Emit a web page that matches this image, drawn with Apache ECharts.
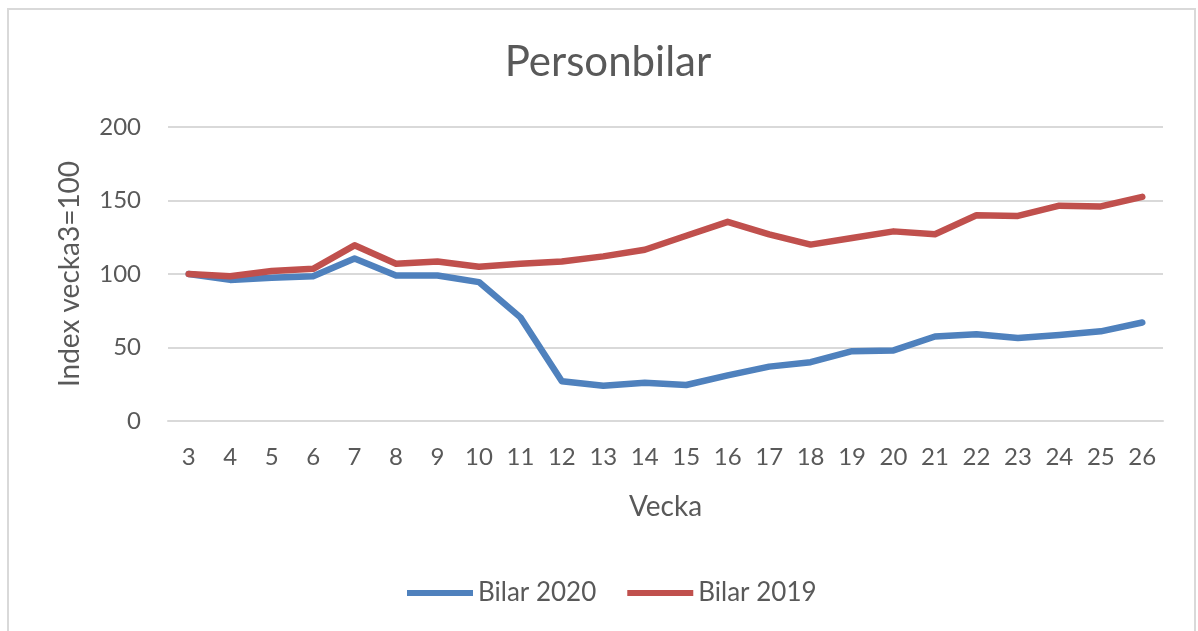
<!DOCTYPE html>
<html>
<head>
<meta charset="utf-8">
<script src="https://cdn.jsdelivr.net/npm/echarts@6/dist/echarts.min.js"></script>
<style>
html,body{margin:0;padding:0;background:#fff;}
#frame{position:absolute;left:7px;top:8px;width:1189px;height:640px;border:2px solid #d9d9d9;box-sizing:border-box;}
#main{position:absolute;left:0;top:0;width:1198px;height:631px;}
</style>
</head>
<body>
<div id="frame"></div>
<div id="main"></div>
<script>
// veckor och index (vecka 3 = 100)
var weeks = ['3','4','5','6','7','8','9','10','11','12','13','14','15','16','17','18','19','20','21','22','23','24','25','26'];
var bilar2020 = [100, 96, 97.5, 98.5, 110.5, 99, 99, 94.5, 70.5, 27, 24, 26, 24.5, 31, 37, 40, 47.5, 48, 57.5, 59, 56.5, 58.5, 61, 67];
var bilar2019 = [100, 98.5, 102, 103.5, 119.5, 107, 108.5, 105, 107, 108.5, 112, 116.5, 126, 135.5, 127, 120, 124.5, 129, 127, 140, 139.5, 146.5, 146, 152.5];
var yTicks = [0, 50, 100, 150, 200];

var font = 'Lato, "Open Sans", sans-serif';
var grey = '#595959';

var chart = echarts.init(document.getElementById('main'));
chart.setOption({
    animation: false,
    textStyle: {fontFamily: font},
    title: {
        text: 'Personbilar',
        left: 603,
        textAlign: 'center',
        top: 36,
        textStyle: {fontSize: 42, fontWeight: 'normal', color: grey, fontFamily: font}
    },
    legend: {
        bottom: 20,
        left: 402,
        itemWidth: 66,
        itemHeight: 6,
        itemGap: 31,
        icon: 'rect',
        textStyle: {fontSize: 26, color: grey, fontFamily: font},
        data: ['Bilar 2020', 'Bilar 2019']
    },
    grid: {left: 168, right: 35, top: 127, bottom: 210},
    xAxis: {
        type: 'category',
        data: weeks,
        boundaryGap: true,
        name: 'Vecka',
        nameLocation: 'middle',
        nameGap: 72,
        nameTextStyle: {fontSize: 28, color: grey},
        axisLine: {show: true, lineStyle: {color: '#d9d9d9', width: 2}},
        axisTick: {show: false},
        axisLabel: {fontSize: 24, color: grey, margin: 24}
    },
    yAxis: {
        type: 'value',
        min: yTicks[0],
        max: yTicks[yTicks.length - 1],
        interval: 50,
        name: 'Index vecka3=100',
        nameLocation: 'middle',
        nameGap: 84,
        nameTextStyle: {fontSize: 28, color: grey},
        axisLine: {show: false},
        axisTick: {show: false},
        axisLabel: {fontSize: 24, color: grey, margin: 27},
        splitLine: {lineStyle: {color: '#d9d9d9', width: 2}}
    },
    series: [
        {
            name: 'Bilar 2020',
            type: 'line',
            data: bilar2020,
            showSymbol: false,
            symbol: 'none',
            color: '#4f81bd',
            lineStyle: {width: 6.5, cap: 'round', join: 'round'}
        },
        {
            name: 'Bilar 2019',
            type: 'line',
            data: bilar2019,
            showSymbol: false,
            symbol: 'none',
            color: '#c0504d',
            lineStyle: {width: 6.5, cap: 'round', join: 'round'}
        }
    ]
});
</script>
</body>
</html>
